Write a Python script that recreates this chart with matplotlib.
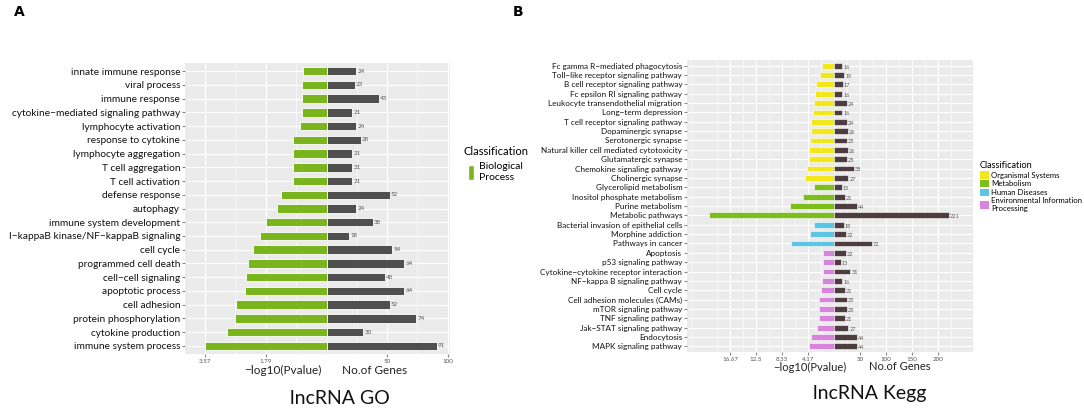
import matplotlib.pyplot as plt
from matplotlib.patches import Patch
import numpy as np

plt.rcParams['font.family'] = ['Lato', 'DejaVu Sans']

# ---- panel A: lncRNA GO ----
go_terms = ['innate immune response', 'viral process', 'immune response',
            'cytokine\u2212mediated signaling pathway', 'lymphocyte activation',
            'response to cytokine', 'lymphocyte aggregation', 'T cell aggregation',
            'T cell activation', 'defense response', 'autophagy',
            'immune system development', 'I\u2212kappaB kinase/NF\u2212kappaB signaling',
            'cell cycle', 'programmed cell death', 'cell\u2212cell signaling',
            'apoptotic process', 'cell adhesion', 'protein phosphorylation',
            'cytokine production', 'immune system process']
go_logp = [0.70, 0.74, 0.74, 0.74, 0.80, 1.00, 1.00, 1.00, 1.00, 1.33, 1.45,
           1.78, 1.96, 2.17, 2.30, 2.37, 2.38, 2.66, 2.68, 2.92, 3.57]
go_genes = [24, 23, 43, 21, 24, 28, 21, 21, 21, 52, 24, 38, 18, 54, 64, 48,
            64, 52, 74, 30, 91]

# ---- panel B: lncRNA Kegg ----
kegg_terms = ['Fc gamma R\u2212mediated phagocytosis', 'Toll\u2212like receptor signaling pathway',
              'B cell receptor signaling pathway', 'Fc epsilon RI signaling pathway',
              'Leukocyte transendothelial migration', 'Long\u2212term depression',
              'T cell receptor signaling pathway', 'Dopaminergic synapse',
              'Serotonergic synapse', 'Natural killer cell mediated cytotoxicity',
              'Glutamatergic synapse', 'Chemokine signaling pathway', 'Cholinergic synapse',
              'Glycerolipid metabolism', 'Inositol phosphate metabolism', 'Purine metabolism',
              'Metabolic pathways', 'Bacterial invasion of epithelial cells',
              'Morphine addiction', 'Pathways in cancer', 'Apoptosis',
              'p53 signaling pathway', 'Cytokine\u2212cytokine receptor interaction',
              'NF\u2212kappa B signaling pathway', 'Cell cycle',
              'Cell adhesion molecules (CAMs)', 'mTOR signaling pathway',
              'TNF signaling pathway', 'Jak\u2212STAT signaling pathway', 'Endocytosis',
              'MAPK signaling pathway']
kegg_logp = [1.97, 2.24, 2.88, 3.00, 3.20, 3.32, 3.64, 3.73, 3.85, 3.96, 3.96,
             4.37, 4.70, 3.20, 5.02, 7.05, 20.1, 3.20, 3.85, 6.94, 1.71, 1.71,
             1.71, 1.92, 2.08, 2.36, 2.36, 2.45, 2.72, 3.69, 3.96]
kegg_genes = [16, 19, 17, 16, 24, 16, 24, 26, 25, 26, 25, 38, 27, 15, 21, 44,
              221, 18, 22, 72, 22, 13, 31, 16, 21, 25, 25, 21, 27, 44, 44]
kegg_class = ['Organismal Systems'] * 13 + ['Metabolism'] * 4 + \
             ['Human Diseases'] * 3 + ['Environmental Information\nProcessing'] * 11

class_colors = {'Organismal Systems': '#F2E71B',
                'Metabolism': '#7DBE1C',
                'Human Diseases': '#5CC6E2',
                'Environmental Information\nProcessing': '#D884DC'}

W, H = 1084, 416
fig = plt.figure(figsize=(W / 100, H / 100), dpi=100)


def style_axes(ax, n):
    ax.set_facecolor('#EBEBEB')
    for s in ax.spines.values():
        s.set_visible(False)
    ax.set_ylim(-0.6, n - 0.4)
    ax.set_yticks(range(n))
    ax.tick_params(axis='y', length=2, color='#888888', pad=1.5)
    ax.tick_params(axis='x', length=2, color='#888888', labelsize=4.5,
                   labelcolor='#555555', pad=1.5)
    ax.grid(True, which='major', color='white', lw=0.8)
    ax.grid(True, which='minor', axis='x', color='white', lw=0.4)
    ax.set_axisbelow(True)


# panel A
axA = fig.add_axes([185 / W, 1 - 354 / H, 265 / W, 291 / H])
n = len(go_terms)
y = np.arange(n)[::-1]
k = 28.5  # genes per -log10 unit
axA.barh(y, [-v * k for v in go_logp], height=0.62, color='#7AB51D',
         edgecolor='white', lw=0.6)
axA.barh(y, go_genes, height=0.62, color='#4F4F4F', edgecolor='white', lw=0.6)
for yy, g in zip(y, go_genes):
    axA.text(g + 1, yy, str(g), fontsize=4.5, va='center', color='#555555')
axA.set_xlim(-118, 102)
style_axes(axA, n)
axA.set_yticks(y)
axA.set_yticklabels(go_terms, fontsize=7.3, color='#111111')
axA.set_xticks([-3.57 * k, -1.79 * k, 50, 100])
axA.set_xticklabels(['3.57', '1.79', '50', '100'])
axA.set_xticks([-2.68 * k, -0.9 * k, 0, 25, 75], minor=True)
axA.tick_params(axis='x', which='minor', length=0)
fig.text(283 / W, 1 - 370 / H, '\u2212log10(Pvalue)', fontsize=8.5,
         ha='center', va='center', color='#222222')
fig.text(375 / W, 1 - 370 / H, 'No.of Genes', fontsize=8.5,
         ha='center', va='center', color='#222222')
fig.text(340 / W, 1 - 398 / H, 'lncRNA GO', fontsize=14, ha='center',
         va='center', color='#111111')
fig.text(14 / W, 1 - 12 / H, 'A', fontsize=10, fontweight='bold',
         ha='left', va='center', family='DejaVu Sans')
fig.legend(handles=[Patch(facecolor='#7AB51D', edgecolor='white')],
           labels=['Biological\nProcess'], title='Classification',
           loc='upper left', bbox_to_anchor=(459 / W, 1 - 142 / H),
           frameon=False, fontsize=7.5, title_fontsize=8, handlelength=0.6,
           handleheight=1.8, handletextpad=0.5, borderaxespad=0)

# panel B
axB = fig.add_axes([687 / W, 1 - 352 / H, 286 / W, 292 / H])
n = len(kegg_terms)
y = np.arange(n)[::-1]
kb = 12.0
axB.barh(y, [-v * kb for v in kegg_logp], height=0.62,
         color=[class_colors[c] for c in kegg_class], edgecolor='white', lw=0.4)
axB.barh(y, kegg_genes, height=0.62, color='#4E3D40', edgecolor='white', lw=0.4)
for yy, g in zip(y, kegg_genes):
    axB.text(g + 2, yy - 0.15, str(g), fontsize=4, va='center', color='#555555')
axB.set_xlim(-283, 267)
style_axes(axB, n)
axB.set_yticks(y)
axB.set_yticklabels(kegg_terms, fontsize=5.9, color='#111111')
axB.set_xticks([-200, -150, -100, -50, 50, 100, 150, 200])
axB.set_xticklabels(['16.67', '12.5', '8.33', '4.17', '50', '100', '150', '200'])
axB.set_xticks([-275, -225, -175, -125, -75, -25, 0, 25, 75, 125, 175, 225],
               minor=True)
axB.tick_params(axis='x', which='minor', length=0)
fig.text(810 / W, 1 - 367 / H, '\u2212log10(Pvalue)', fontsize=8,
         ha='center', va='center', color='#222222')
fig.text(900 / W, 1 - 367 / H, 'No.of Genes', fontsize=8,
         ha='center', va='center', color='#222222')
fig.text(870 / W, 1 - 393 / H, 'lncRNA Kegg', fontsize=14, ha='center',
         va='center', color='#111111')
fig.text(513 / W, 1 - 12 / H, 'B', fontsize=10, fontweight='bold',
         ha='left', va='center', family='DejaVu Sans')
fig.legend(handles=[Patch(facecolor=c, edgecolor='none') for c in class_colors.values()],
           labels=list(class_colors.keys()), title='Classification',
           loc='upper left', bbox_to_anchor=(977 / W, 1 - 158 / H),
           frameon=False, fontsize=5.6, title_fontsize=6.6, handlelength=1.2,
           handleheight=1.1, handletextpad=0.25, labelspacing=0.15,
           borderaxespad=0, alignment='left')

fig.savefig('out.png', dpi=100)
